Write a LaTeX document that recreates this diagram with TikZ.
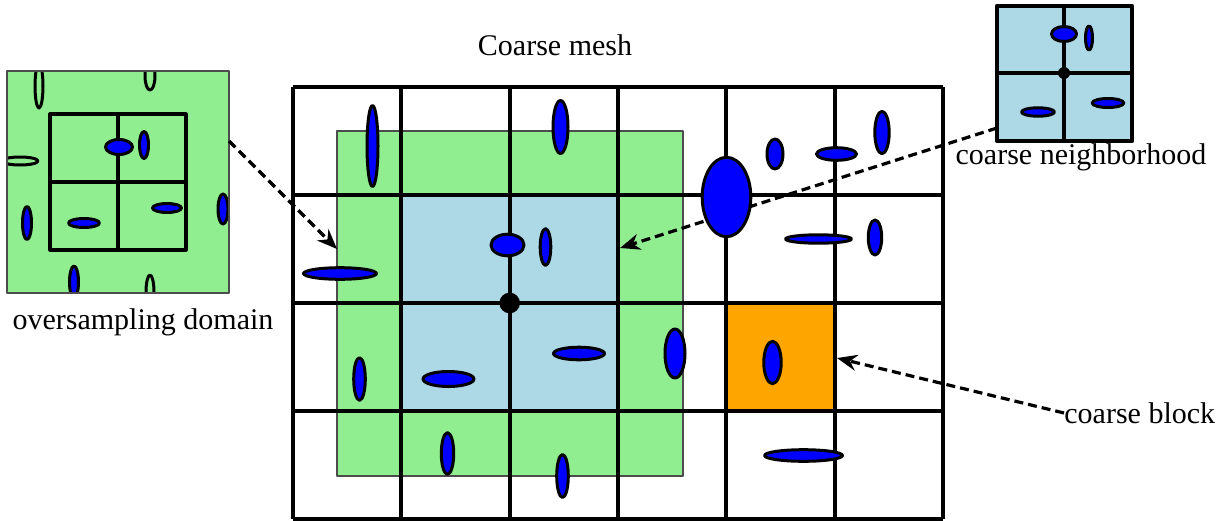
\documentclass[tikz,border=0pt]{standalone}
\usepackage{fontspec}
\setmainfont{Liberation Serif}
\usetikzlibrary{arrows.meta}
\definecolor{osgreen}{HTML}{90EE90}
\definecolor{nbblue}{HTML}{ADD8E6}
\definecolor{blkorange}{HTML}{FFA500}
\tikzset{
  blob/.style={fill=blue,draw=black,line width=1.5pt},
  hollow/.style={draw=black,line width=1.5pt},
  gridline/.style={line width=2.1pt},
  pointer/.style={-{Stealth[length=10pt,width=8pt]},dash pattern=on 4.5pt off 2.5pt,line width=1.6pt},
  lbl/.style={font=\fontsize{15}{18}\selectfont,inner sep=0pt}
}
\begin{document}
\begin{tikzpicture}[x=0.5pt,y=-0.5pt,join=round]
\useasboundingbox[fill=white] (0,0) rectangle (1226,520);
% regions of the coarse mesh
\filldraw[fill=osgreen,draw=black!70,line width=0.6pt] (337,131) rectangle (683,476);
\fill[nbblue] (401,195) rectangle (618,411);
\fill[blkorange] (727,303) rectangle (835,411);
\foreach \x in {293,401.33,509.67,618,726.33,834.67,943}
  \draw[gridline] (\x,87) -- (\x,519);
\foreach \y in {87,195,303,411,519}
  \draw[gridline] (293,\y) -- (943,\y);
% oversampling domain
\begin{scope}
  \clip (7,71) rectangle (229,293);
  \fill[osgreen] (7,71) rectangle (229,293);
  \draw[line width=1.6pt] (50,114) rectangle (186,250) (118,114) -- (118,250) (50,182) -- (186,182);
  \draw[hollow] (39,86) ellipse (4 and 22);
  \draw[hollow] (150,76) ellipse (5 and 14);
  \draw[hollow] (20,161) ellipse (18 and 4);
  \draw[hollow] (150,292) ellipse (4 and 17);
  \filldraw[blob] (119,147) ellipse (13.5 and 7.5);
  \filldraw[blob] (144,145) ellipse (4.5 and 13.5);
  \filldraw[blob] (167,208) ellipse (14.5 and 4.5);
  \filldraw[blob] (84,223) ellipse (15.5 and 4.5);
  \filldraw[blob] (27,223) ellipse (4.5 and 16.5);
  \filldraw[blob] (223,209) ellipse (5 and 15);
  \filldraw[blob] (74,282) ellipse (4.5 and 16);
\end{scope}
\draw[black!70,line width=0.6pt] (7,71) rectangle (229,293);
% coarse neighborhood
\filldraw[fill=nbblue,line width=2.1pt] (997,6) rectangle (1132,141);
\draw[line width=1.6pt] (1064,6) -- (1064,141) (997,73) -- (1132,73);
\filldraw[blob] (1064,34) ellipse (12.5 and 7.5);
\filldraw[blob] (1089,38) ellipse (3.5 and 12);
\filldraw[blob] (1038,112) ellipse (16.5 and 4.2);
\filldraw[blob] (1108,103) ellipse (15.8 and 4.5);
\fill (1064,73) circle (6);
% labels
\node[lbl] (meshlbl) at (555,45) {Coarse mesh};
\node[lbl] (oslbl) at (143,322) {oversampling domain};
\node[lbl] (nblbl) at (1081,157) {coarse neighborhood};
\node[lbl,anchor=west] (blklbl) at (1064,413) {coarse block};
\coordinate (osout) at (229,141);
\coordinate (osin) at (337,249);
\coordinate (nbout) at (997,128);
\coordinate (nbin) at (620,248);
\coordinate (blkin) at (837,358);
\draw[pointer] (osout) -- (osin);
\draw[pointer] (nbout) -- (nbin);
\draw[pointer] (blklbl.west) -- (blkin);
% inclusions
\filldraw[blob] (372.5,146) ellipse (5.5 and 40.5);
\filldraw[blob] (560.5,127) ellipse (7.5 and 26.5);
\filldraw[blob] (507.5,245) ellipse (16.5 and 10.8);
\filldraw[blob] (545.5,247) ellipse (5.3 and 18.3);
\filldraw[blob] (340,273.5) ellipse (36.5 and 5.8);
\filldraw[blob] (359.5,379) ellipse (5.8 and 21.3);
\filldraw[blob] (448.5,379) ellipse (25.5 and 7.5);
\filldraw[blob] (579,353.5) ellipse (25.5 and 6.3);
\filldraw[blob] (675,353.5) ellipse (10 and 24.5);
\filldraw[blob] (447.5,453.5) ellipse (6.2 and 20.8);
\filldraw[blob] (562.5,476) ellipse (5.8 and 21.5);
\filldraw[blob] (726.5,197) ellipse (24.3 and 39.7);
\filldraw[blob] (775,154) ellipse (8 and 15);
\filldraw[blob] (836.5,154) ellipse (20 and 6.3);
\filldraw[blob] (882,132.5) ellipse (7.2 and 21.2);
\filldraw[blob] (818.5,239) ellipse (33 and 4.2);
\filldraw[blob] (875,237.5) ellipse (6.7 and 17.5);
\filldraw[blob] (772.5,362.5) ellipse (8.7 and 21.2);
\filldraw[blob] (803.5,455.5) ellipse (39 and 5.8);
\fill (509.67,303) circle (10.3);
\end{tikzpicture}
\end{document}
